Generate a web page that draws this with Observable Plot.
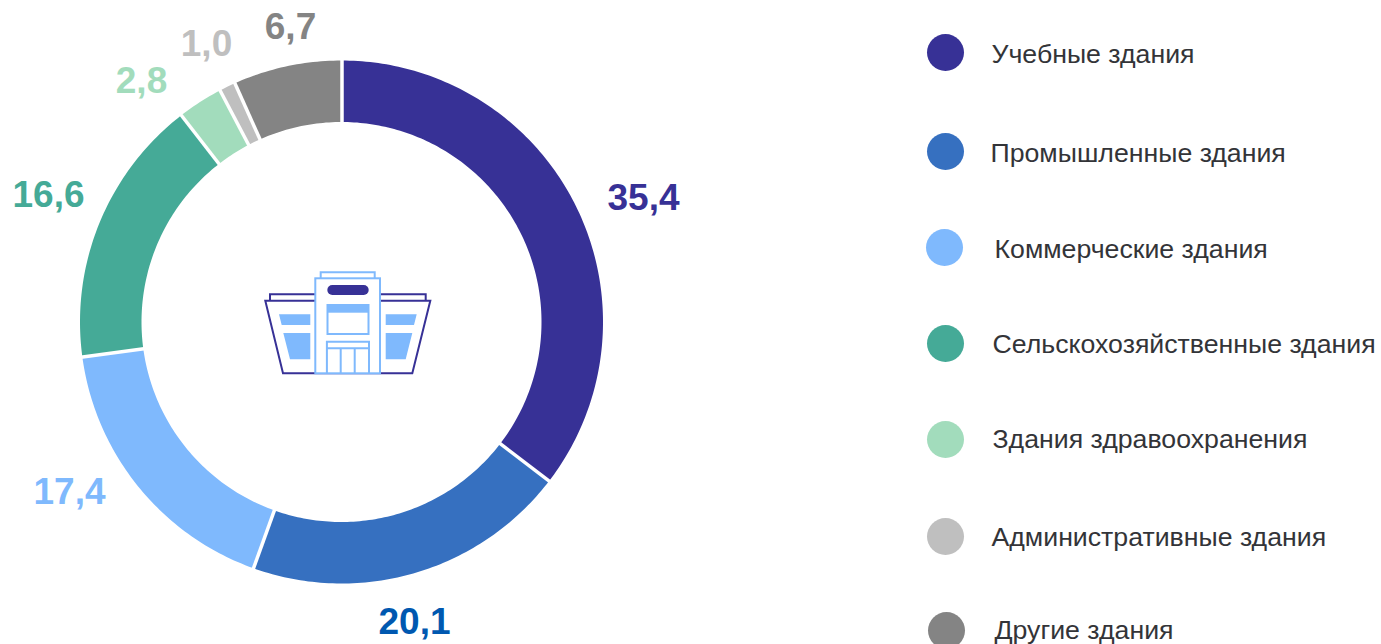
<!DOCTYPE html>
<html lang="ru">
<head>
<meta charset="utf-8">
<script src="https://cdn.jsdelivr.net/npm/d3@7"></script>
<script src="https://cdn.jsdelivr.net/npm/@observablehq/plot@0.6"></script>
<style>html,body{margin:0;padding:0;background:#fff;overflow:hidden}svg{display:block}</style>
</head>
<body>
<div id="chart"></div>
<script>
const categories = ["Учебные здания","Промышленные здания","Коммерческие здания","Сельскохозяйственные здания","Здания здравоохранения","Административные здания","Другие здания"];
const shares = [35.4, 20.1, 17.4, 16.6, 2.8, 1.0, 6.7];
const colors = ["#373196","#3670c0","#7fb9fd","#45aa97","#a2dcbc","#bfbfbf","#848484"];
const labelColors = ["#373196","#0058b0","#7fb9fd","#45aa97","#a2dcbc","#bfbfbf","#848484"];

// layout
const labelX = [643, 414, 69, 48, 141, 206, 290];
const labelY = [198, 622, 492, 195, 81, 44, 27];
const legendDotX = [945,945,944,945,945,945,946];
const legendDotY = [52,151,247,343,439,536,630];
const legendTextX = [991,990,994,992,992,991,994];
const legendTextY = [54,153,249,344,439,537,630];
const cx = 341.5, cy = 322, rOuter = 261.5, rInner = 200;

const total = d3.sum(shares);
const starts = d3.cumsum([0, ...shares]);
const polar = (share, r) => {
  const a = share / total * 2 * Math.PI;
  return [cx + r * Math.sin(a), cy - r * Math.cos(a)];
};
const arcPoints = categories.flatMap((category, i) => {
  const n = Math.max(4, Math.ceil(shares[i] * 4));
  return d3.range(n + 1).map(k => {
    const s = starts[i] + shares[i] * k / n;
    const [x1, y1] = polar(s, rInner), [x2, y2] = polar(s, rOuter);
    return {category, x1, y1, x2, y2};
  });
});
const gaps = shares.map((_, i) => {
  const [x1, y1] = polar(starts[i], rInner - 2), [x2, y2] = polar(starts[i], rOuter + 2);
  return {x1, y1, x2, y2};
});
const rows = categories.map((category, i) => ({
  category, share: shares[i], label: shares[i].toFixed(1).replace(".", ","),
  labelColor: labelColors[i], lx: labelX[i], ly: labelY[i],
  dx: legendDotX[i], dy: legendDotY[i], tx: legendTextX[i], ty: legendTextY[i]
}));

const L = "#7fb9fd", D = "#373196";
const icon = () => {
  const g = d3.create("svg:g");
  g.html(`
  <path d="M270 300.7V294.3H316M380 294.3H425.7V300.7" fill="#fff" stroke="${D}" stroke-width="2"/>
  <path d="M265.3 300.7H430.3L412.3 373.3H283Z" fill="#fff" stroke="${D}" stroke-width="2"/>
  <path d="M279 314.3H310.3V325H281.7ZM283.3 333H310.3V359.3H290ZM385.7 314.3H416.7L414 325H385.7ZM385.7 333H412.3L405.7 359.3H385.7Z" fill="${L}"/>
  <path d="M320.7 278.3V272.3H374.7V278.3" fill="#fff" stroke="${L}" stroke-width="2"/>
  <rect x="315.3" y="278.3" width="64.7" height="95" fill="#fff" stroke="${L}" stroke-width="2"/>
  <rect x="327.3" y="285" width="41.4" height="10" rx="5" fill="${D}"/>
  <rect x="327.5" y="305" width="41" height="29" fill="#fff" stroke="${L}" stroke-width="2"/>
  <rect x="327.5" y="305" width="41" height="7.7" fill="${L}"/>
  <path d="M326.9 373.3V341.7H369V373.3M326.9 348.3H369M340.7 348.3V373.3M354.7 348.3V373.3" fill="none" stroke="${L}" stroke-width="2"/>`);
  return g.node();
};

const font = "'Liberation Sans', Arial, sans-serif";
const chart = Plot.plot({
  width: 1381, height: 644,
  margin: 0,
  style: {background: "#fff", fontFamily: font},
  x: {domain: [0, 1381], range: [0, 1381], axis: null},
  y: {domain: [0, 644], range: [0, 644], axis: null},
  color: {domain: categories, range: colors},
  marks: [
    Plot.area(arcPoints, {x1: "x1", y1: "y1", x2: "x2", y2: "y2", z: "category", fill: "category", curve: "linear"}),
    Plot.link(gaps, {x1: "x1", y1: "y1", x2: "x2", y2: "y2", stroke: "#fff", strokeWidth: 3.5}),
    icon,
    Plot.text(rows, {x: "lx", y: "ly", text: "label", fill: "labelColor", fontSize: 37, fontWeight: "bold", lineAnchor: "middle", textAnchor: "middle"}),
    Plot.dot(rows, {x: "dx", y: "dy", r: 18.5, fill: "category", stroke: null}),
    Plot.text(rows, {x: "tx", y: "ty", text: "category", fill: "#333438", fontSize: 26.7, textAnchor: "start", lineAnchor: "middle"})
  ]
});
document.getElementById("chart").append(chart);
</script>
</body>
</html>
